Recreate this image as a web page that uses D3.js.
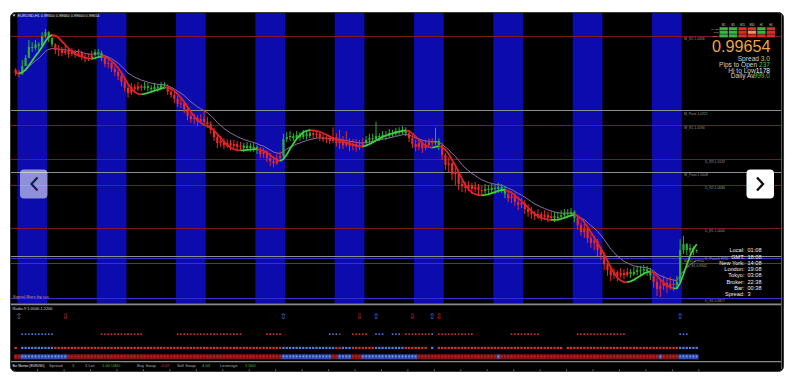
<!DOCTYPE html>
<html>
<head>
<meta charset="utf-8">
<script src="https://cdn.jsdelivr.net/npm/d3@7"></script>
<style>
  html, body { margin: 0; padding: 0; background: #fff; }
  svg { display: block; font-family: "Liberation Sans", Arial, sans-serif; }
</style>
</head>
<body>
<svg id="chart" width="794" height="380"></svg>
<script>
// ---- EURUSD H1 price data (one line per trading day, 24 bars) ----
const symbolName = "EURUSD,H1";
const firstOpen = 1.0295;
const closes = [
  1.0289,1.0287,1.0302,1.0317,1.0337,1.0335,1.0342,1.0339,1.0357,1.0364,1.0353,1.0342,1.0331,1.0333,1.0326,1.0330,1.0324,1.0328,1.0322,1.0326,1.0319,1.0315,1.0317,1.0322,
  1.0328,1.0326,1.0317,1.0306,1.0308,1.0297,1.0291,1.0284,1.0273,1.0262,1.0253,1.0264,1.0260,1.0265,1.0262,1.0265,1.0262,1.0260,1.0264,1.0262,1.0267,1.0265,1.0255,1.0249,
  1.0242,1.0233,1.0234,1.0223,1.0211,1.0205,1.0207,1.0201,1.0205,1.0200,1.0196,1.0185,1.0172,1.0161,1.0165,1.0157,1.0161,1.0156,1.0159,1.0154,1.0156,1.0152,1.0156,1.0152,
  1.0154,1.0148,1.0141,1.0145,1.0134,1.0128,1.0124,1.0134,1.0137,1.0168,1.0172,1.0174,1.0170,1.0176,1.0172,1.0178,1.0174,1.0179,1.0176,1.0178,1.0172,1.0168,1.0170,1.0165,
  1.0172,1.0161,1.0167,1.0157,1.0163,1.0156,1.0159,1.0154,1.0157,1.0161,1.0167,1.0170,1.0168,1.0174,1.0172,1.0176,1.0174,1.0179,1.0178,1.0183,1.0181,1.0185,1.0179,1.0170,
  1.0159,1.0154,1.0161,1.0152,1.0157,1.0163,1.0161,1.0165,1.0157,1.0139,1.0121,1.0124,1.0104,1.0108,1.0086,1.0082,1.0079,1.0084,1.0077,1.0081,1.0075,1.0073,1.0077,1.0075,
  1.0079,1.0077,1.0081,1.0077,1.0068,1.0060,1.0064,1.0053,1.0048,1.0051,1.0040,1.0035,1.0031,1.0027,1.0031,1.0026,1.0029,1.0024,1.0027,1.0024,1.0026,1.0029,1.0033,1.0031,
  1.0035,1.0024,1.0011,0.9998,1.0004,0.9987,0.9978,0.9982,0.9965,0.9956,0.9939,0.9928,0.9919,0.9925,0.9918,0.9923,0.9919,0.9925,0.9921,0.9925,0.9928,0.9927,0.9930,0.9927,
  0.9918,0.9907,0.9894,0.9899,0.9905,0.9897,0.9903,0.9901,0.9907,0.9965,0.9976,0.9965,0.9969,0.99650,0.99654
];
const highs = [
  1.0298,1.0295,1.0313,1.0322,1.0350,1.0346,1.0350,1.0346,1.0364,1.0370,1.0366,1.0355,1.0344,1.0341,1.0337,1.0339,1.0333,1.0335,1.0331,1.0333,1.0330,1.0324,1.0326,1.0330,
  1.0333,1.0333,1.0330,1.0320,1.0317,1.0309,1.0302,1.0295,1.0287,1.0278,1.0269,1.0271,1.0269,1.0273,1.0269,1.0273,1.0271,1.0267,1.0271,1.0269,1.0273,1.0273,1.0269,1.0260,
  1.0255,1.0247,1.0244,1.0238,1.0227,1.0218,1.0214,1.0212,1.0214,1.0222,1.0209,1.0201,1.0189,1.0178,1.0174,1.0170,1.0168,1.0167,1.0167,1.0165,1.0163,1.0161,1.0163,1.0161,
  1.0161,1.0157,1.0154,1.0152,1.0148,1.0143,1.0137,1.0141,1.0146,1.0178,1.0181,1.0183,1.0179,1.0183,1.0181,1.0185,1.0183,1.0187,1.0185,1.0185,1.0181,1.0179,1.0178,1.0176,
  1.0190,1.0179,1.0185,1.0174,1.0183,1.0170,1.0168,1.0168,1.0167,1.0170,1.0174,1.0178,1.0178,1.0200,1.0179,1.0183,1.0183,1.0187,1.0185,1.0189,1.0190,1.0192,1.0190,1.0185,
  1.0178,1.0167,1.0168,1.0165,1.0167,1.0170,1.0170,1.0189,1.0170,1.0161,1.0143,1.0135,1.0126,1.0117,1.0112,1.0093,1.0090,1.0091,1.0088,1.0090,1.0086,1.0082,1.0086,1.0084,
  1.0086,1.0084,1.0088,1.0086,1.0082,1.0075,1.0073,1.0070,1.0062,1.0060,1.0057,1.0049,1.0044,1.0037,1.0040,1.0035,1.0038,1.0035,1.0037,1.0035,1.0035,1.0038,1.0040,1.0040,
  1.0042,1.0038,1.0029,1.0016,1.0013,1.0005,0.9994,0.9991,0.9985,0.9972,0.9961,0.9947,0.9936,0.9932,0.9928,0.9932,0.9930,0.9932,0.9930,0.9934,0.9936,0.9936,0.9938,0.9936,
  0.9932,0.9925,0.9914,0.9910,0.9918,0.9912,0.9916,0.9912,0.9918,0.9985,0.9991,0.9978,0.9976,0.9972,0.99660
];
const lows = [
  1.0284,1.0282,1.0286,1.0302,1.0317,1.0328,1.0331,1.0331,1.0337,1.0353,1.0346,1.0337,1.0324,1.0320,1.0320,1.0322,1.0317,1.0320,1.0317,1.0319,1.0313,1.0309,1.0311,1.0313,
  1.0319,1.0320,1.0311,1.0300,1.0298,1.0291,1.0284,1.0276,1.0265,1.0255,1.0244,1.0249,1.0255,1.0256,1.0256,1.0258,1.0256,1.0255,1.0256,1.0255,1.0258,1.0260,1.0249,1.0244,
  1.0234,1.0227,1.0225,1.0216,1.0203,1.0198,1.0196,1.0192,1.0196,1.0192,1.0189,1.0178,1.0165,1.0152,1.0154,1.0150,1.0152,1.0148,1.0150,1.0146,1.0148,1.0145,1.0146,1.0145,
  1.0145,1.0141,1.0134,1.0134,1.0126,1.0119,1.0117,1.0121,1.0128,1.0134,1.0163,1.0165,1.0165,1.0167,1.0165,1.0168,1.0167,1.0170,1.0168,1.0170,1.0165,1.0163,1.0161,1.0159,
  1.0161,1.0154,1.0150,1.0150,1.0154,1.0146,1.0148,1.0145,1.0148,1.0152,1.0156,1.0161,1.0163,1.0165,1.0165,1.0168,1.0167,1.0170,1.0172,1.0174,1.0176,1.0176,1.0174,1.0163,
  1.0152,1.0146,1.0148,1.0143,1.0148,1.0154,1.0156,1.0157,1.0148,1.0130,1.0112,1.0108,1.0093,1.0084,1.0075,1.0071,1.0070,1.0073,1.0068,1.0071,1.0064,1.0064,1.0068,1.0066,
  1.0070,1.0068,1.0070,1.0070,1.0060,1.0053,1.0051,1.0046,1.0038,1.0042,1.0031,1.0026,1.0022,1.0020,1.0022,1.0018,1.0020,1.0016,1.0018,1.0016,1.0018,1.0022,1.0024,1.0024,
  1.0026,1.0016,1.0002,0.9991,0.9987,0.9978,0.9969,0.9965,0.9954,0.9947,0.9928,0.9918,0.9908,0.9912,0.9908,0.9914,0.9912,0.9916,0.9914,0.9918,0.9919,0.9919,0.9921,0.9918,
  0.9910,0.9896,0.9881,0.9879,0.9892,0.9886,0.9892,0.9890,0.9896,0.9903,0.9958,0.9956,0.9958,0.9956,0.99600
];

// Tokyo session hours (first and last bar of each session)
const tokyoSessions = [[1,9],[25,33],[49,57],[73,81],[97,105],[121,129],[145,153],[169,177],[193,201]];

// Pivot levels
const levelNames  = ["W_R2","M_Pivot","W_R1","D_R3","W_Pivot","D_R2","D_R1","D_Pivot","M_S1","D_S1","D_S2"];
const levelPrices = [1.0358, 1.0221, 1.0194, 1.0132, 1.0108, 1.0084, 1.0005, 0.9955, 0.9950, 0.9942, 0.9877];

// Multi-timeframe signal panel
const tfNames = ["M1","M5","M15","M30","H1","H4"];
const signalNames = ["MACD","STR","EMA"];
const tfSignals = [[1,1,1],[1,1,1],[-1,-1,-1],[-1,0,-1],[1,1,-1],[-1,-1,-1]];

// Market info
const bidPrice = 0.99654;
const marketLabels = ["Spread","Pips to Open","Hi to Low","Daily Av"];
const marketValues = ["3.0","237","1178","999.0"];
const clockLabels = ["Local:","GMT:","New York:","London:","Tokyo:","Broker:","Bar:","Spread:"];
const clockValues = ["01:08","18:08","14:08","19:08","03:08","22:38","00:38","3"];

// Signal Bars sub-window: [firstBar, lastBar, direction]
const buySignalBars  = [1, 81, 109, 126, 201];
const sellSignalBars = [15, 104, 120, 128];
const shortTrend = [[2,11,1],[26,38,-1],[49,68,-1],[76,80,-1],[95,97,1],[98,98,-1],[102,106,-1],[109,111,1],[114,116,1],[118,125,-1],[126,126,1],[128,138,-1],[150,158,-1],[170,184,-1],[201,203,1]];
const midTrend = [[0,0,-1],[2,11,1],[12,80,-1],[81,96,1],[97,98,-1],[99,101,1],[102,108,-1],[109,117,1],[118,124,-1],[126,126,1],[128,165,-1],[167,200,-1],[201,206,1]];
const longTrend = [[0,1,-1],[2,15,1],[16,80,-1],[81,95,1],[96,97,-1],[98,101,1],[102,104,-1],[105,121,1],[122,145,-1],[146,146,1],[147,194,-1],[195,195,1],[196,200,-1],[201,206,1]];
const subWindowTitle = "Radio-9 1.0500-1.2200";

// Status bar
const statusLabels = ["Spread","1 Lot","Buy Swap","Sell Swap","Leverage"];
const statusValues = ["3","1.00 USD","-4.07","4.03","1:500"];

// ---------------------------------------------------------------
const N = closes.length;
const svg = d3.select("#chart");
const UP = "#2fae33", DOWN = "#ea2a2a";

const x = d3.scaleLinear().domain([0, N - 1]).range([15.65, 15.65 + 3.306 * (N - 1)]);
const y = d3.scaleLinear().domain([0.98681, 1.03974]).range([303, 14]);
const barStep = x(1) - x(0);

// indicators
function wma(src, n) {
  return src.map((_, i) => {
    let num = 0, den = 0;
    for (let k = 0; k < n && i - k >= 0; k++) { const w = n - k; num += src[i - k] * w; den += w; }
    return num / den;
  });
}
function hma(src, n) {
  const a = wma(src, Math.round(n / 2)), b = wma(src, n);
  return wma(a.map((v, i) => 2 * v - b[i]), Math.round(Math.sqrt(n)));
}
function ema(src, n) {
  const k = 2 / (n + 1); let prev = src[0];
  return src.map(v => (prev = prev + k * (v - prev)));
}
const fastMA = hma(closes, 16);
const slowMA = ema(closes, 12);
const trend = closes.map((c, i) => i === 0 ? (c >= firstOpen ? 1 : -1) : (fastMA[i] >= fastMA[i - 1] ? 1 : -1));

// card
svg.append("rect").attr("width", 794).attr("height", 380).attr("fill", "#fff");
svg.append("rect").attr("x", 10.5).attr("y", 12.5).attr("width", 773).attr("height", 359)
  .attr("rx", 5).attr("fill", "#000").attr("stroke", "#3a3a3a");

const defs = svg.append("defs");
defs.append("clipPath").attr("id", "mainClip").append("rect")
  .attr("x", 11).attr("y", 13).attr("width", 770).attr("height", 290.5);
const main = svg.append("g").attr("clip-path", "url(#mainClip)");

// Tokyo session shading
main.selectAll("rect.session").data(tokyoSessions).join("rect")
  .attr("x", d => x(d[0]) - barStep / 2)
  .attr("width", d => x(d[1]) - x(d[0]) + barStep)
  .attr("y", 13).attr("height", 291)
  .attr("fill", "#0b0bae");

// pivot levels; labels sitting under the clock block shift left
const levelKind = n => n.includes("Pivot") ? "p" : (n.includes("_R") ? "r" : "s");
const levelColor = { r: "#801a1a", p: "#8e8e8e", s: "#3232d0" };
const levels = levelNames.map((n, i) => ({ name: n, price: levelPrices[i], kind: levelKind(n) }));
const labelX = d => {
  const yy = y(d.price);
  if (!d.name.startsWith("D_")) return 684;
  return (yy > 259 && yy < 296) ? 687 : 705;
};
main.selectAll("line.level").data(levels).join("line")
  .attr("x1", 11).attr("x2", 781)
  .attr("y1", d => Math.round(y(d.price)) + 0.5).attr("y2", d => Math.round(y(d.price)) + 0.5)
  .attr("stroke", d => levelColor[d.kind]).attr("stroke-width", 1);
main.selectAll("text.level").data(levels).join("text")
  .attr("x", labelX)
  .attr("y", d => y(d.price) + 4.2)
  .attr("font-size", 3.4).attr("fill", "#9a9a9a")
  .text(d => `${d.name} ${d.price.toFixed(4)}`);

// slow MA
main.append("path").datum(d3.range(N))
  .attr("d", d3.line().x(i => x(i)).y(i => y(slowMA[i])))
  .attr("fill", "none").attr("stroke", "#8f6cae").attr("stroke-width", 1);

// candles
const candles = main.append("g");
closes.forEach((c, i) => {
  const o = i === 0 ? firstOpen : closes[i - 1];
  const h = Math.max(highs[i], o, c), l = Math.min(lows[i], o, c);
  const col = trend[i] > 0 ? UP : DOWN;
  candles.append("line").attr("x1", x(i)).attr("x2", x(i))
    .attr("y1", y(h)).attr("y2", y(l)).attr("stroke", col).attr("stroke-width", 1);
  const top = y(Math.max(o, c)), bot = y(Math.min(o, c));
  candles.append("rect").attr("x", x(i) - 1.1).attr("width", 2.2)
    .attr("y", top).attr("height", Math.max(1, bot - top)).attr("fill", col);
});

// fast MA, coloured by slope
const runs = []; let cur = null;
for (let i = 1; i < N; i++) {
  if (!cur || cur.t !== trend[i]) { cur = { t: trend[i], idx: [i - 1] }; runs.push(cur); }
  cur.idx.push(i);
}
main.selectAll("path.fast").data(runs).join("path")
  .attr("d", r => d3.line().x(i => x(i)).y(i => y(fastMA[i]))(r.idx))
  .attr("fill", "none").attr("stroke", r => r.t > 0 ? "#3fd03f" : "#e02222").attr("stroke-width", 1.8);

// chart title and indicator tag
const last = N - 1;
svg.append("path").attr("d", "M12.5,14.5 L15.5,14.5 L14,16.8 Z").attr("fill", "#ddd");
svg.append("text").attr("x", 17.5).attr("y", 16.8).attr("font-size", 3.9).attr("fill", "#e6e6e6")
  .attr("textLength", 82).attr("lengthAdjust", "spacingAndGlyphs")
  .text(`${symbolName}  ${closes[last - 1].toFixed(5)} ${highs[last].toFixed(5)} ${lows[last].toFixed(5)} ${closes[last].toFixed(5)}`);
svg.append("text").attr("x", 12.7).attr("y", 297.6).attr("font-size", 3.8).attr("fill", "#cf8f62")
  .attr("textLength", 36).attr("lengthAdjust", "spacingAndGlyphs").text("Signal Bars by cja");

// multi-timeframe grid
const gx = d3.scaleBand().domain(tfNames).range([719.5, 775]).paddingInner(0.12);
const gy = d3.scaleBand().domain(signalNames).range([27.2, 37.4]).paddingInner(0.14);
const sigColor = v => v > 0 ? "#38b548" : (v < 0 ? "#d4302a" : "#f09468");
tfNames.forEach((tf, c) => {
  svg.append("text").attr("x", gx(tf) + gx.bandwidth() / 2).attr("y", 25.6).attr("font-size", 2.6)
    .attr("text-anchor", "middle").attr("fill", "#cfcfcf").text(tf);
  signalNames.forEach((s, r) => {
    svg.append("rect").attr("x", gx(tf)).attr("y", gy(s)).attr("width", gx.bandwidth()).attr("height", gy.bandwidth())
      .attr("fill", sigColor(tfSignals[c][r]));
  });
});
signalNames.forEach(s => {
  svg.append("text").attr("x", 718.5).attr("y", gy(s) + gy.bandwidth() - 0.4).attr("font-size", 2.5)
    .attr("text-anchor", "end").attr("fill", "#bdbdbd").text(s);
});

// bid price and market info
svg.append("text").attr("x", 770.5).attr("y", 51.6).attr("font-size", 16.2).attr("text-anchor", "end")
  .attr("fill", "#eba444").text(bidPrice.toFixed(5));
const valueColors = ["#d6c63c", "#3ccb3c", "#f2f2f2", "#3ccb3c"];
marketLabels.forEach((lab, i) => {
  const t = svg.append("text").attr("x", 770).attr("y", 61 + i * 5.8).attr("font-size", 6.6)
    .attr("text-anchor", "end");
  t.append("tspan").attr("fill", "#cfcfcf").text(lab + (i < 2 ? " " : ""));
  t.append("tspan").attr("fill", valueColors[i]).attr("dx", i === 3 ? -1 : 0).text(marketValues[i]);
});

// clocks
clockLabels.forEach((lab, i) => {
  const yy = 252.2 + i * 6.3;
  svg.append("text").attr("x", 744.5).attr("y", yy).attr("font-size", 5.6).attr("text-anchor", "end")
    .attr("fill", "#eeeeee").text(lab);
  svg.append("text").attr("x", 747.5).attr("y", yy).attr("font-size", 5.6).attr("fill", "#eeeeee").text(clockValues[i]);
});

// window separators and right border
svg.append("line").attr("x1", 11).attr("x2", 782).attr("y1", 304.3).attr("y2", 304.3).attr("stroke", "#8a8a8a").attr("stroke-width", 1.8);
svg.append("line").attr("x1", 11).attr("x2", 782).attr("y1", 361.6).attr("y2", 361.6).attr("stroke", "#8a8a8a").attr("stroke-width", 1.4);
svg.append("line").attr("x1", 781.5).attr("x2", 781.5).attr("y1", 14).attr("y2", 369).attr("stroke", "#5a5a5a");

// ---- Signal Bars sub-window ----
const sub = svg.append("g");
sub.append("text").attr("x", 12.5).attr("y", 309.8).attr("font-size", 3.8).attr("fill", "#d8d8d8")
  .attr("textLength", 40).attr("lengthAdjust", "spacingAndGlyphs").text(subWindowTitle);
const SUB_UP = "#4f7ee6", SUB_DN = "#dd3030";
sub.selectAll("text.buy").data(buySignalBars).join("text")
  .attr("x", d => x(d)).attr("y", 319).attr("font-size", 8).attr("text-anchor", "middle")
  .attr("font-family", "DejaVu Sans").attr("fill", SUB_UP).text("\u21E7");
sub.selectAll("text.sell").data(sellSignalBars).join("text")
  .attr("x", d => x(d)).attr("y", 319).attr("font-size", 8).attr("text-anchor", "middle")
  .attr("font-family", "DejaVu Sans").attr("fill", SUB_DN).text("\u21E9");

const expand = segs => segs.flatMap(([a, b, dir]) => d3.range(a, b + 1).map(i => ({ i, dir })));
sub.selectAll("rect.short").data(expand(shortTrend)).join("rect")
  .attr("x", d => x(d.i) - 0.8).attr("y", 333.4).attr("width", 1.6).attr("height", 1.6)
  .attr("fill", d => d.dir > 0 ? SUB_UP : SUB_DN);
sub.selectAll("rect.mid").data(expand(midTrend)).join("rect")
  .attr("x", d => x(d.i) - 1.15).attr("y", 346.8).attr("width", 2.3).attr("height", 2.2)
  .attr("fill", d => d.dir > 0 ? SUB_UP : SUB_DN);
sub.selectAll("rect.long").data(expand(longTrend)).join("rect")
  .attr("x", d => x(d.i) - barStep / 2).attr("y", 354.3).attr("width", barStep + 0.1).attr("height", 5)
  .attr("fill", d => d.dir > 0 ? "#3550b8" : "#8c1414");
sub.selectAll("rect.longdot").data(expand(longTrend)).join("rect")
  .attr("x", d => x(d.i) - 0.8).attr("y", 355.6).attr("width", 1.6).attr("height", 1.6)
  .attr("fill", d => d.dir > 0 ? "#7d9cf4" : "#c02828");

// ---- status bar ----
svg.append("text").attr("x", 12.5).attr("y", 367.3).attr("font-size", 3.1).attr("fill", "#e8e8e8")
  .text("Bar Monitor (EURUSD)");
const statusX = [[49, 72], [85, 102], [137, 160], [177, 202], [220, 245]];
const statusValColor = ["#36c436", "#36c436", "#e03030", "#36c436", "#36c436"];
statusLabels.forEach((lab, i) => {
  svg.append("text").attr("x", statusX[i][0]).attr("y", 367.3).attr("font-size", 4.2).attr("fill", "#a9a9a9").text(lab);
  svg.append("text").attr("x", statusX[i][1]).attr("y", 367.3).attr("font-size", 4.2).attr("fill", statusValColor[i]).text(statusValues[i]);
});

// time axis ticks peeking below the status bar
const timeAxis = d3.axisBottom(x).tickValues(d3.range(6.5, N, 8)).tickSize(2).tickFormat("");
const ax = svg.append("g").attr("transform", "translate(0,369.3)").call(timeAxis);
ax.select(".domain").remove();
ax.selectAll("line").attr("stroke", "#6a6a6a");

// ---- carousel navigation buttons ----
svg.append("rect").attr("x", 20).attr("y", 169.5).attr("width", 27.5).attr("height", 29).attr("rx", 4)
  .attr("fill", "rgba(255,255,255,0.55)");
svg.append("polyline").attr("points", "37.5,177.5 31.5,184 37.5,190.5")
  .attr("fill", "none").attr("stroke", "#1d1d3c").attr("stroke-width", 2.2);
svg.append("rect").attr("x", 746.5).attr("y", 169.5).attr("width", 27.5).attr("height", 29).attr("rx", 4)
  .attr("fill", "#fff");
svg.append("polyline").attr("points", "757,177.5 763,184 757,190.5")
  .attr("fill", "none").attr("stroke", "#111").attr("stroke-width", 2.4);
</script>
</body>
</html>
